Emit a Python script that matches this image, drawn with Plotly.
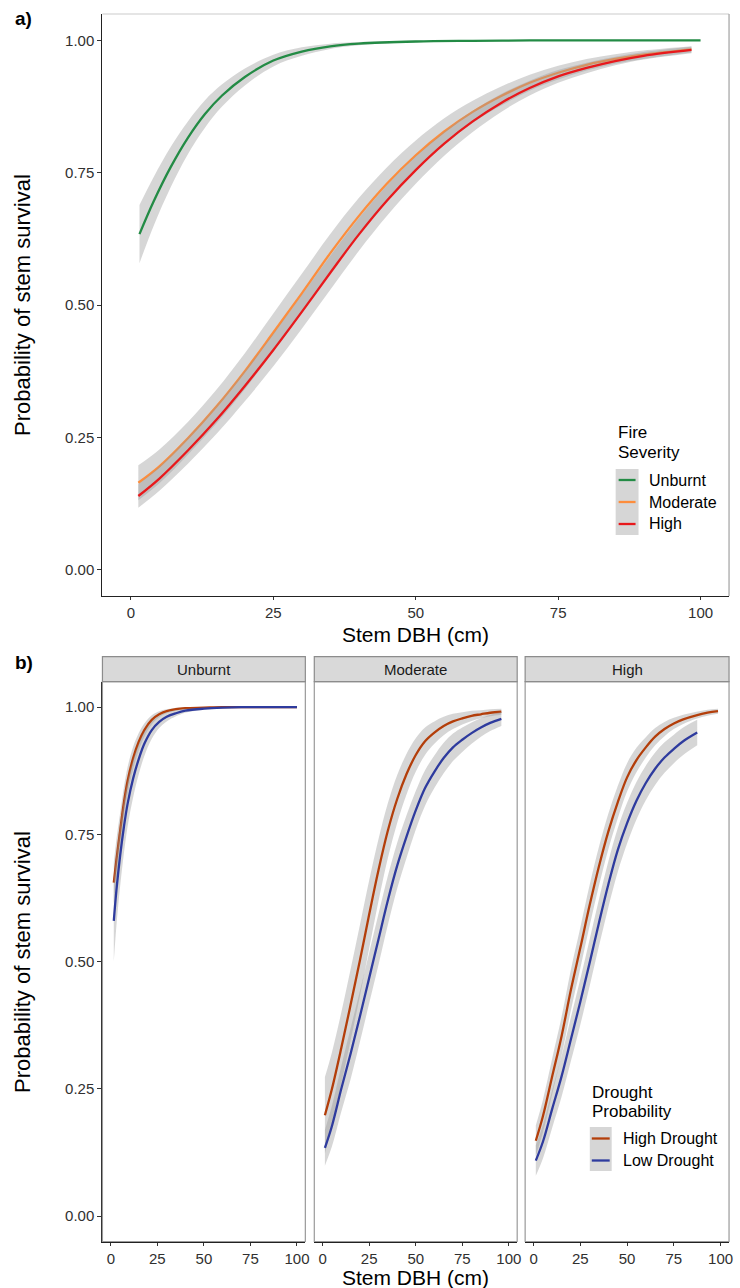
import plotly.graph_objects as go

FONT = "Liberation Sans, Arial, Helvetica, sans-serif"
W, H = 740, 1288

# ---------------- Panel a data (Stem DBH vs probability by fire severity) ----------------
a_unburnt_x = [1.5, 4, 7, 10, 13, 16, 20, 25, 30, 35, 40, 50, 60, 70, 80, 90, 100]
a_unburnt_p = [0.634, 0.696, 0.761, 0.816, 0.861, 0.896, 0.931, 0.962, 0.979, 0.989, 0.994, 0.998, 0.9993, 1.0, 1.0, 1.0, 1.0]
a_unburnt_ci = [0.055, 0.046, 0.038, 0.031, 0.026, 0.021, 0.016, 0.011, 0.008, 0.005, 0.003, 0.0015, 0.001, 0.0, 0.0, 0.0, 0.0]

a_burnt_x = [1.3, 5, 10, 15, 20, 25, 30, 35, 40, 45, 50, 55, 60, 65, 70, 75, 80, 85, 90, 98.4]
a_moderate_p = [0.164, 0.195, 0.248, 0.308, 0.375, 0.448, 0.522, 0.598, 0.668, 0.73, 0.783, 0.828, 0.865, 0.895, 0.92, 0.939, 0.954, 0.965, 0.973, 0.983]
a_moderate_ci = [0.033, 0.032, 0.031, 0.032, 0.034, 0.036, 0.037, 0.036, 0.034, 0.031, 0.028, 0.025, 0.021, 0.018, 0.015, 0.013, 0.011, 0.009, 0.008, 0.006]
a_high_p = [0.139, 0.172, 0.225, 0.283, 0.347, 0.415, 0.487, 0.561, 0.633, 0.698, 0.755, 0.805, 0.847, 0.882, 0.91, 0.932, 0.948, 0.961, 0.971, 0.982]
a_high_ci = [0.022, 0.023, 0.025, 0.027, 0.029, 0.031, 0.032, 0.032, 0.031, 0.029, 0.026, 0.023, 0.02, 0.017, 0.014, 0.012, 0.01, 0.008, 0.007, 0.006]

# ---------------- Panel b data (by drought within fire severity) ----------------
b_unb_x = [1.6, 3, 5, 7, 9, 12, 15, 18, 22, 26, 30, 35, 40, 50, 60, 70, 80, 90, 100]
b_unb_hd = [0.655, 0.70, 0.757, 0.812, 0.855, 0.90, 0.932, 0.955, 0.975, 0.986, 0.992, 0.996, 0.998, 0.999, 1.0, 1.0, 1.0, 1.0, 1.0]
b_unb_hd_ci = [0.04, 0.04, 0.035, 0.03, 0.027, 0.022, 0.017, 0.013, 0.009, 0.006, 0.004, 0.003, 0.002, 0.001, 0.0, 0.0, 0.0, 0.0, 0.0]
b_unb_ld = [0.58, 0.64, 0.708, 0.764, 0.81, 0.86, 0.898, 0.928, 0.955, 0.971, 0.981, 0.988, 0.993, 0.997, 0.999, 1.0, 1.0, 1.0, 1.0]
b_unb_ld_ci = [0.08, 0.07, 0.06, 0.052, 0.045, 0.037, 0.03, 0.024, 0.017, 0.012, 0.009, 0.006, 0.004, 0.002, 0.001, 0.0, 0.0, 0.0, 0.0]

b_mod_x = [1.2, 5, 10, 15, 20, 25, 30, 35, 40, 45, 50, 55, 60, 65, 70, 75, 80, 85, 90, 96]
b_mod_hd = [0.198, 0.25, 0.33, 0.415, 0.502, 0.593, 0.68, 0.757, 0.819, 0.868, 0.906, 0.933, 0.95, 0.963, 0.972, 0.978, 0.983, 0.986, 0.989, 0.991]
b_mod_hd_ci = [0.075, 0.072, 0.07, 0.07, 0.07, 0.067, 0.061, 0.054, 0.047, 0.04, 0.033, 0.027, 0.022, 0.018, 0.015, 0.012, 0.01, 0.008, 0.007, 0.006]
b_mod_ld = [0.134, 0.177, 0.25, 0.319, 0.392, 0.468, 0.544, 0.62, 0.688, 0.745, 0.797, 0.841, 0.873, 0.90, 0.921, 0.936, 0.949, 0.96, 0.969, 0.977]
b_mod_ld_ci = [0.035, 0.04, 0.045, 0.05, 0.05, 0.05, 0.05, 0.048, 0.045, 0.042, 0.038, 0.035, 0.032, 0.03, 0.027, 0.024, 0.021, 0.018, 0.016, 0.014]

b_high_hd_x = [1.2, 5, 10, 15, 20, 25, 30, 35, 40, 45, 50, 55, 60, 65, 70, 75, 80, 87, 93, 98.6]
b_high_hd = [0.148, 0.196, 0.275, 0.354, 0.445, 0.527, 0.611, 0.688, 0.756, 0.813, 0.862, 0.896, 0.921, 0.942, 0.957, 0.968, 0.976, 0.984, 0.989, 0.992]
b_high_hd_ci = [0.03, 0.032, 0.035, 0.038, 0.04, 0.04, 0.04, 0.038, 0.035, 0.032, 0.028, 0.024, 0.02, 0.017, 0.014, 0.011, 0.009, 0.007, 0.006, 0.005]
b_high_ld_x = [1.2, 5, 10, 15, 20, 25, 30, 35, 40, 45, 50, 55, 60, 65, 70, 75, 80, 87.5]
b_high_ld = [0.109, 0.146, 0.211, 0.275, 0.348, 0.421, 0.498, 0.577, 0.652, 0.719, 0.772, 0.816, 0.851, 0.879, 0.901, 0.918, 0.933, 0.95]
b_high_ld_ci = [0.03, 0.033, 0.037, 0.04, 0.043, 0.045, 0.046, 0.046, 0.045, 0.043, 0.04, 0.037, 0.034, 0.032, 0.03, 0.028, 0.027, 0.025]

severity_labels = ["Unburnt", "Moderate", "High"]
drought_labels = ["High Drought", "Low Drought"]
x_ticks = [0, 25, 50, 75, 100]
y_ticks = [0, 0.25, 0.5, 0.75, 1.0]

C_UNB, C_MOD, C_HIGH = "#238b45", "#fd8d3c", "#e8191c"
C_HD, C_LD = "#b33e0a", "#2e3b9e"
RIB = "rgba(153,153,153,0.4)"
SMOOTH = 1.0

fig = go.Figure()


def add_group(x, p, ci, color, xa, ya):
    lo = [max(0.0, v - c) for v, c in zip(p, ci)]
    hi = [min(1.0, v + c) for v, c in zip(p, ci)]
    common = dict(xaxis=xa, yaxis=ya, showlegend=False, hoverinfo="skip")
    fig.add_trace(go.Scatter(x=x, y=lo, mode="lines", line=dict(width=0, shape="spline", smoothing=SMOOTH), **common))
    fig.add_trace(go.Scatter(x=x, y=hi, mode="lines", line=dict(width=0, shape="spline", smoothing=SMOOTH),
                             fill="tonexty", fillcolor=RIB, **common))
    fig.add_trace(go.Scatter(x=x, y=p, mode="lines",
                             line=dict(color=color, width=2.3, shape="spline", smoothing=SMOOTH), **common))


add_group(a_unburnt_x, a_unburnt_p, a_unburnt_ci, C_UNB, "x", "y")
add_group(a_burnt_x, a_moderate_p, a_moderate_ci, C_MOD, "x", "y")
add_group(a_burnt_x, a_high_p, a_high_ci, C_HIGH, "x", "y")

add_group(b_unb_x, b_unb_hd, b_unb_hd_ci, C_HD, "x2", "y2")
add_group(b_unb_x, b_unb_ld, b_unb_ld_ci, C_LD, "x2", "y2")
add_group(b_mod_x, b_mod_hd, b_mod_hd_ci, C_HD, "x3", "y3")
add_group(b_mod_x, b_mod_ld, b_mod_ld_ci, C_LD, "x3", "y3")
add_group(b_high_hd_x, b_high_hd, b_high_hd_ci, C_HD, "x4", "y4")
add_group(b_high_ld_x, b_high_ld, b_high_ld_ci, C_LD, "x4", "y4")


def px_x(v):
    return v / W


def px_y(v):
    return 1 - v / H


A_L, A_R, A_T, A_B = 103, 733, 14, 596
B_T, B_B = 681.7, 1241.5
B_STRIP_T = 656.7
B_PANELS = [(103, 307), (316, 520), (528, 733)]

tickfont = dict(family=FONT, size=15, color="#303030")


def xax(domain, anchor, rng, ticklen=4):
    return dict(domain=domain, anchor=anchor, range=rng, tickvals=x_ticks, ticks="outside", ticklen=ticklen,
                tickwidth=1, tickcolor="#333", tickfont=tickfont, showgrid=False, zeroline=False,
                showline=True, linecolor="#222", linewidth=1.3, fixedrange=True)


def yax(domain, anchor, labels=True):
    return dict(domain=domain, anchor=anchor, range=[-0.05, 1.05], tickvals=y_ticks, tickformat=".2f",
                ticks="outside" if labels else "", ticklen=4, tickwidth=1, tickcolor="#333", tickfont=tickfont,
                showticklabels=labels, showgrid=False, zeroline=False,
                showline=labels, linecolor="#222", linewidth=1.3, fixedrange=True)


layout = dict(
    width=W, height=H, margin=dict(l=0, r=0, t=0, b=0),
    paper_bgcolor="white", plot_bgcolor="white", showlegend=False,
    font=dict(family=FONT, color="#000"),
    xaxis=xax([px_x(A_L), px_x(A_R)], "y", [-5, 105], ticklen=3),
    yaxis=yax([px_y(A_B), px_y(A_T)], "x"),
)
for i, (l, r) in enumerate(B_PANELS):
    n = i + 2
    layout[f"xaxis{n}"] = xax([px_x(l), px_x(r)], f"y{n}", [-4.5, 104.5], ticklen=3)
    layout[f"yaxis{n}"] = yax([px_y(B_B), px_y(B_T)], f"x{n}", labels=(i == 0))
fig.update_layout(**layout)

shapes = []
# panel a top/right border
shapes.append(dict(type="line", xref="paper", yref="paper", x0=px_x(A_L), x1=px_x(A_R), y0=px_y(A_T), y1=px_y(A_T),
                   line=dict(color="#dcdcdc", width=1.3)))
shapes.append(dict(type="line", xref="paper", yref="paper", x0=px_x(A_R), x1=px_x(A_R), y0=px_y(A_T), y1=px_y(A_B),
                   line=dict(color="#a8a8a8", width=1.3)))
# panel b facet borders and strips
for i, (l, r) in enumerate(B_PANELS):
    shapes.append(dict(type="rect", xref="paper", yref="paper", x0=px_x(l), x1=px_x(r), y0=px_y(B_B), y1=px_y(B_T),
                       line=dict(color="#9a9a9a", width=1.2), fillcolor="rgba(0,0,0,0)", layer="above"))
    shapes.append(dict(type="rect", xref="paper", yref="paper", x0=px_x(l), x1=px_x(r), y0=px_y(B_T),
                       y1=px_y(B_STRIP_T), line=dict(color="#8c8c8c", width=1.2), fillcolor="#d9d9d9"))

annotations = []


def text(x, y, s, size, xanchor="left", yanchor="middle", bold=False, angle=0, color="#000"):
    annotations.append(dict(xref="paper", yref="paper", x=px_x(x), y=px_y(y), text=f"<b>{s}</b>" if bold else s,
                            showarrow=False, xanchor=xanchor, yanchor=yanchor, textangle=angle,
                            font=dict(family=FONT, size=size, color=color)))


# strip labels
for (l, r), lab in zip(B_PANELS, severity_labels):
    text((l + r) / 2, (B_T + B_STRIP_T) / 2, lab, 15, xanchor="center", color="#1a1a1a")

# panel labels
text(13, 18, "a)", 19, bold=True)
text(13, 662, "b)", 19, bold=True)

# axis titles
text(22, 305, "Probability of stem survival", 22, xanchor="center", angle=-90)
text(22, 962, "Probability of stem survival", 22, xanchor="center", angle=-90)
text(418, 634, "Stem DBH (cm)", 21, xanchor="center")
text(418, 1277, "Stem DBH (cm)", 21, xanchor="center")

# legend a
text(619, 433, "Fire", 17)
text(619, 453, "Severity", 17)
shapes.append(dict(type="rect", xref="paper", yref="paper", x0=px_x(619), x1=px_x(642), y0=px_y(535), y1=px_y(469),
                   line=dict(width=0), fillcolor="#d6d6d6"))
for yy, col, lab in zip([480, 502, 524], [C_UNB, C_MOD, C_HIGH], severity_labels):
    shapes.append(dict(type="line", xref="paper", yref="paper", x0=px_x(622), x1=px_x(639), y0=px_y(yy), y1=px_y(yy),
                       line=dict(color=col, width=2.3)))
    text(651, yy, lab, 16)

# legend b
text(593, 1092, "Drought", 17)
text(593, 1111, "Probability", 17)
shapes.append(dict(type="rect", xref="paper", yref="paper", x0=px_x(593), x1=px_x(615), y0=px_y(1171), y1=px_y(1127),
                   line=dict(width=0), fillcolor="#d6d6d6"))
for yy, col, lab in zip([1138.5, 1160.5], [C_HD, C_LD], drought_labels):
    shapes.append(dict(type="line", xref="paper", yref="paper", x0=px_x(595), x1=px_x(613), y0=px_y(yy), y1=px_y(yy),
                       line=dict(color=col, width=2.3)))
    text(624, yy, lab, 16)

fig.update_layout(shapes=shapes, annotations=annotations)
fig.write_html("out.html")
